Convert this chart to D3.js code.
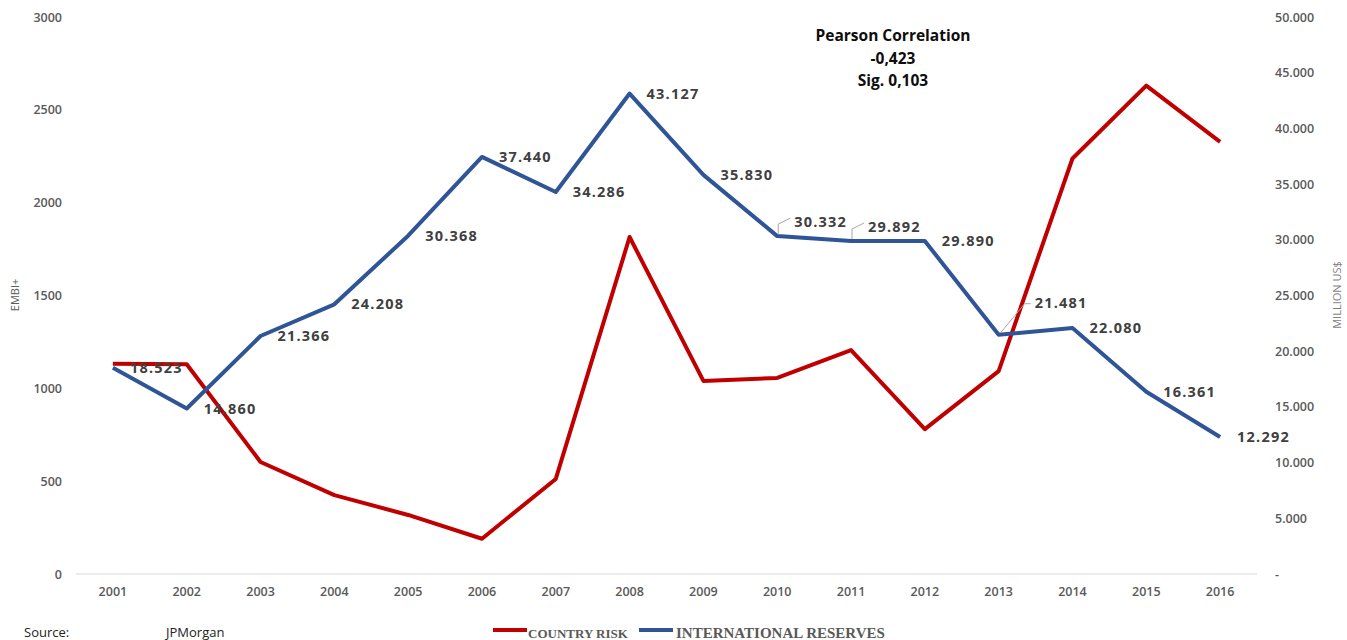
<!DOCTYPE html>
<html><head><meta charset="utf-8">
<script src="https://cdn.jsdelivr.net/npm/d3@7"></script>
<style>body{margin:0;background:#fff}</style>
</head><body>
<svg id="c" width="1347" height="640"></svg>
<script>
const years = ["2001","2002","2003","2004","2005","2006","2007","2008","2009","2010","2011","2012","2013","2014","2015","2016"];
const countryRisk = [1133,1130,603,425,318,190,512,1815,1040,1056,1206,780,1093,2238,2630,2327];
const reserves = [18523,14860,21366,24208,30368,37440,34286,43127,35830,30332,29892,29890,21481,22080,16361,12292];
const leftTicks = [0,500,1000,1500,2000,2500,3000];
const rightTicks = [0,5000,10000,15000,20000,25000,30000,35000,40000,45000,50000];
const leaderYears = {"2010":[-14,0], "2011":[-14,0], "2013":[-32,19]};

const svg = d3.select("#c");
const L = 76, R = 1257, T = 17, B = 574;
const x = d3.scaleBand().domain(years).range([L,R]);
const cx = d => x(d) + x.bandwidth()/2;
const yL = d3.scaleLinear().domain([0,3000]).range([B,T]);
const yR = d3.scaleLinear().domain([0,50000]).range([B,T]);
const fmt = v => v===0 ? "-" : d3.format(",")(v).replace(/,/g,".");
const font = "'Open Sans', sans-serif";

// zero line
svg.append("line").attr("x1",L).attr("x2",R).attr("y1",B).attr("y2",B)
  .attr("stroke","#d9d9d9").attr("stroke-width",1);

function styleTicks(g){
  g.select(".domain").remove();
  g.selectAll("text").attr("font-family",font).attr("font-size",12.5).attr("font-weight",600).attr("fill","#595959");
}
// left axis
svg.append("g").attr("transform",`translate(${L},0)`)
  .call(d3.axisLeft(yL).tickValues(leftTicks).tickSize(0).tickPadding(14).tickFormat(d3.format("d")))
  .call(styleTicks);
// right axis
svg.append("g").attr("transform",`translate(${R},0)`)
  .call(d3.axisRight(yR).tickValues(rightTicks).tickSize(0).tickPadding(18).tickFormat(fmt))
  .call(styleTicks);
// x axis
svg.append("g").attr("transform",`translate(0,${B})`)
  .call(d3.axisBottom(x).tickSize(0).tickPadding(13))
  .call(styleTicks);

// axis titles
svg.append("text").attr("transform","translate(19,295) rotate(-90)").attr("text-anchor","middle")
  .attr("font-family",font).attr("font-size",11).attr("fill","#595959").text("EMBI+");
svg.append("text").attr("transform","translate(1341,295) rotate(-90)").attr("text-anchor","middle")
  .attr("font-family",font).attr("font-size",11).attr("fill","#7f7f7f").text("MILLION US$");

// lines
const redLine = d3.line().x((d,i)=>cx(years[i])).y(d=>yL(d));
const blueLine = d3.line().x((d,i)=>cx(years[i])).y(d=>yR(d));
svg.append("path").datum(countryRisk).attr("d",redLine).attr("fill","none")
  .attr("stroke","#C00000").attr("stroke-width",4).attr("stroke-linejoin","round");
svg.append("path").datum(reserves).attr("d",blueLine).attr("fill","none")
  .attr("stroke","#2F5597").attr("stroke-width",4).attr("stroke-linejoin","round");

// data labels
reserves.forEach((v,i)=>{
  const yr = years[i];
  const px = cx(yr), py = yR(v);
  let lx = px + 17, ly = py;
  if (leaderYears[yr]) {
    const [dy, dx] = leaderYears[yr];
    ly = py + dy; lx = px + 17 + dx;
    const pts = yr==="2013"
      ? [[px+2,py-2],[lx-10,ly+1],[lx-4,ly+1]]
      : [[px+1,py-2],[px+1,ly+2],[lx-4,ly-4]];
    svg.append("path").attr("d",d3.line()(pts)).attr("fill","none")
      .attr("stroke","#a6a6a6").attr("stroke-width",1);
  }
  svg.append("text").attr("x",lx).attr("y",ly).attr("dy","0.35em")
    .attr("font-family",font).attr("font-size",14.5).attr("font-weight","bold")
    .attr("letter-spacing",1.2).attr("fill","#404040").text(fmt(v));
});

// Pearson text
const ptxt = ["Pearson Correlation","-0,423","Sig. 0,103"];
ptxt.forEach((t,i)=>svg.append("text").attr("x",893).attr("y",41+i*22.5).attr("text-anchor","middle")
  .attr("font-family",font).attr("font-size",15.5).attr("font-weight","bold").attr("fill","#0d0d0d").text(t));

// legend
const legend = [{name:"COUNTRY RISK",color:"#C00000",x:493,tx:528,fs:13},{name:"INTERNATIONAL RESERVES",color:"#2F5597",x:639,tx:676,fs:15}];
legend.forEach(d=>{
  svg.append("line").attr("x1",d.x).attr("x2",d.x+34).attr("y1",630).attr("y2",630)
    .attr("stroke",d.color).attr("stroke-width",4);
  svg.append("text").attr("x",d.tx).attr("y",638).attr("font-family","'Liberation Serif', serif")
    .attr("font-size",d.fs).attr("font-weight","bold").attr("fill","#595959").text(d.name);
});

// source
svg.append("text").attr("x",24).attr("y",637).attr("font-family",font).attr("font-size",13)
  .attr("fill","#222").text("Source:");
svg.append("text").attr("x",166).attr("y",637).attr("font-family",font).attr("font-size",13)
  .attr("fill","#222").text("JPMorgan");
</script>
</body></html>
